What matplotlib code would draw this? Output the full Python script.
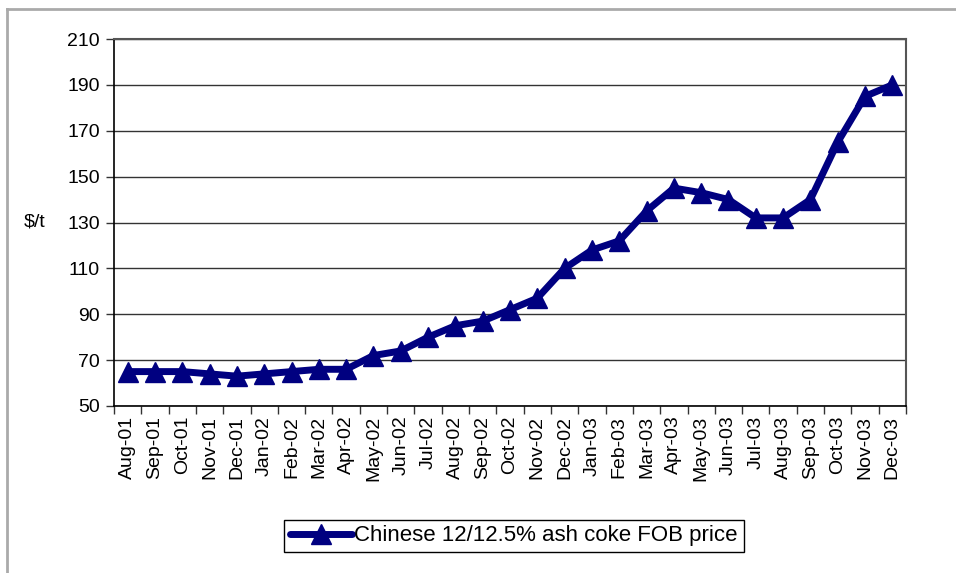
import matplotlib
matplotlib.use("Agg")
import matplotlib.pyplot as plt
import numpy as np
from matplotlib.lines import Line2D

months = ["Aug-01", "Sep-01", "Oct-01", "Nov-01", "Dec-01", "Jan-02", "Feb-02", "Mar-02",
          "Apr-02", "May-02", "Jun-02", "Jul-02", "Aug-02", "Sep-02", "Oct-02", "Nov-02",
          "Dec-02", "Jan-03", "Feb-03", "Mar-03", "Apr-03", "May-03", "Jun-03", "Jul-03",
          "Aug-03", "Sep-03", "Oct-03", "Nov-03", "Dec-03"]
prices = [65, 65, 65, 64, 63, 64, 65, 66, 66, 72, 74, 80, 85, 87, 92, 97,
          110, 118, 122, 135, 145, 143, 140, 132, 132, 140, 165, 185, 190]
yticks = [50, 70, 90, 110, 130, 150, 170, 190, 210]
series_name = "Chinese 12/12.5% ash coke FOB price"

plt.rcParams['font.family'] = ['Liberation Sans', 'DejaVu Sans']
FS = 14

fig = plt.figure(figsize=(9.56, 5.73), dpi=100)
W, H = 956, 573
ax = fig.add_axes([114 / W, 1 - 406 / H, (906 - 114) / W, (406 - 39) / H])

n = len(months)
x = np.arange(n)
color = "#000080"
ax.plot(x, prices, color=color, lw=5, marker="^", markersize=15,
        solid_joinstyle="round", solid_capstyle="round", zorder=3)

ax.set_xlim(-0.5, n - 0.5)
ax.set_ylim(yticks[0], yticks[-1])
ax.set_yticks(yticks)
ax.set_yticklabels([str(v) for v in yticks], fontsize=FS)
ax.yaxis.grid(True, color="#333333", lw=1)
ax.set_axisbelow(True)

ax.set_xticks(np.arange(n + 1) - 0.5)
ax.set_xticklabels([])
ax.set_xticks(x, minor=True)
ax.set_xticklabels(months, minor=True, rotation=90, fontsize=FS)
ax.tick_params(axis="x", which="major", direction="out", length=6, width=1, color="#333333")
ax.tick_params(axis="x", which="minor", length=0, pad=7)
ax.tick_params(axis="y", direction="out", length=6, width=1, color="#333333", pad=4)

for s in ["left", "bottom"]:
    ax.spines[s].set_color("black")
    ax.spines[s].set_linewidth(1.2)
for s in ["top", "right"]:
    ax.spines[s].set_color("#555555")
    ax.spines[s].set_linewidth(1.5)

fig.text(35 / W, 1 - 222 / H, "$/t", fontsize=FS, ha="center", va="center")

handle = Line2D([], [], color=color, lw=5, marker="^", markersize=15,
                solid_capstyle="round")
leg = fig.legend([handle], [series_name], loc="center",
                 bbox_to_anchor=(514 / W, 1 - 536 / H), fontsize=16,
                 frameon=True, fancybox=False, edgecolor="black", framealpha=1,
                 handlelength=2.8, handletextpad=0.1, numpoints=1,
                 borderpad=0.25, borderaxespad=0)
leg.get_frame().set_linewidth(1.0)

# light figure border (top and left visible)
fig.add_artist(Line2D([7 / W, 1], [1 - 9 / H, 1 - 9 / H], color="#aaaaaa", lw=2,
                      transform=fig.transFigure))
fig.add_artist(Line2D([7 / W, 7 / W], [1 - 9 / H, 0], color="#aaaaaa", lw=2,
                      transform=fig.transFigure))

fig.savefig("out.png", dpi=100)
